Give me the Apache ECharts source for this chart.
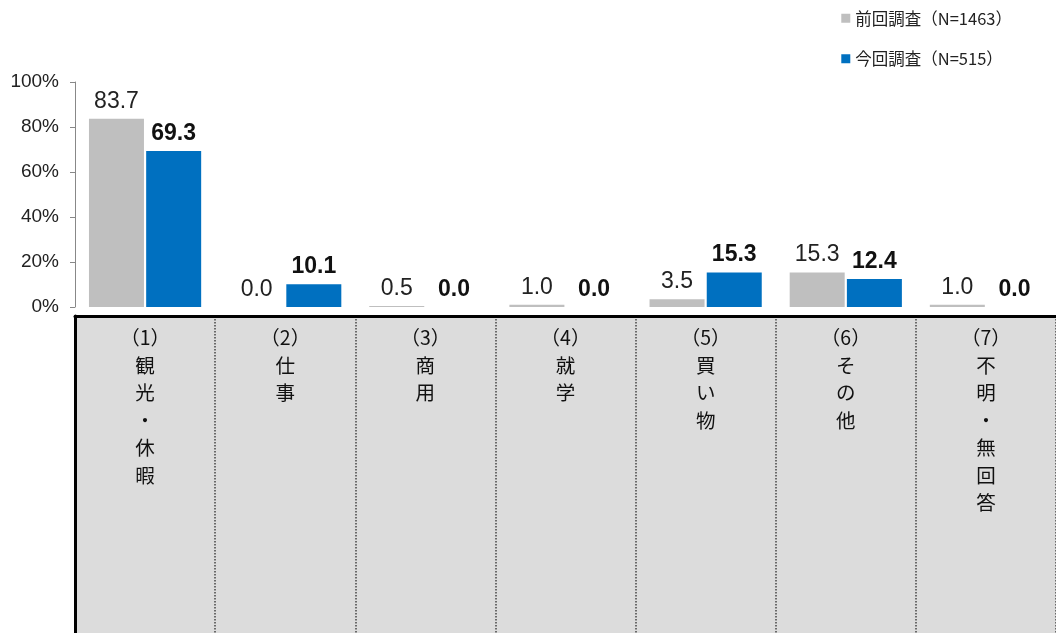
<!DOCTYPE html>
<html>
<head>
<meta charset="utf-8">
<script src="https://cdn.jsdelivr.net/npm/echarts@6/dist/echarts.min.js"></script>
<style>html,body{margin:0;padding:0;background:#fff}#c{width:1056px;height:633px}</style>
</head>
<body>
<div id="c"></div>
<script>
const categories = ['（1）観光・休暇', '（2）仕事', '（3）商用', '（4）就学', '（5）買い物', '（6）その他', '（7）不明・無回答'];
const seriesNames = ['前回調査（N=1463）', '今回調査（N=515）'];
const previousValues = [83.7, 0.0, 0.5, 1.0, 3.5, 15.3, 1.0];
const currentValues = [69.3, 10.1, 0.0, 0.0, 15.3, 12.4, 0.0];
const yTicks = [0, 20, 40, 60, 80, 100];

const NUM_FONT = '"Liberation Sans", Arial, sans-serif';
const CJK_FONT = '"Noto Sans CJK JP", sans-serif';

function verticalLabel(s) {
  const m = s.match(/^(（\d）)(.*)$/);
  return [m[1]].concat(Array.from(m[2])).join('\n');
}

const chart = echarts.init(document.getElementById('c'), null, {renderer: 'canvas'});
chart.setOption({
  animation: false,
  backgroundColor: '#fff',
  textStyle: {fontFamily: NUM_FONT},
  legend: {
    orient: 'vertical',
    right: 39,
    top: 5,
    itemWidth: 9,
    itemHeight: 9,
    itemGap: 24,
    icon: 'rect',
    textStyle: {fontSize: 16.5, color: '#222', fontFamily: CJK_FONT},
    data: seriesNames
  },
  grid: [
    {left: 75, right: -6, top: 82, bottom: 326, containLabel: false},
    {left: 75, right: -6, top: 316, bottom: -2, show: true, backgroundColor: '#dcdcdc', borderWidth: 0, containLabel: false}
  ],
  xAxis: [
    {type: 'category', gridIndex: 0, data: categories, axisLine: {show: false}, axisTick: {show: false}, axisLabel: {show: false}},
    {type: 'category', gridIndex: 1, data: categories, position: 'top',
      axisLine: {show: true, onZero: false, lineStyle: {color: '#000', width: 3}},
      axisTick: {show: false},
      splitLine: {show: true, interval: 0, lineStyle: {color: '#444', type: 'dotted', width: 1.5}},
      axisLabel: {inside: true, interval: 0, margin: 8, formatter: verticalLabel, fontSize: 19.5, lineHeight: 27.5, color: '#111', fontFamily: CJK_FONT, verticalAlign: 'top', align: 'center'}
    }
  ],
  yAxis: [
    {type: 'value', gridIndex: 0, min: 0, max: 100, interval: 20,
      axisLine: {show: true, lineStyle: {color: '#888', width: 1}},
      axisTick: {show: true, length: 5, lineStyle: {color: '#888'}},
      splitLine: {show: false},
      axisLabel: {formatter: v => yTicks.includes(v) ? v + '%' : '', fontSize: 19, color: '#222', margin: 16, fontFamily: NUM_FONT}
    },
    {type: 'value', gridIndex: 1, min: 0, max: 1,
      axisLine: {show: true, onZero: false, lineStyle: {color: '#000', width: 3}},
      axisTick: {show: false}, axisLabel: {show: false}, splitLine: {show: false}
    }
  ],
  series: [
    {name: seriesNames[0], type: 'bar', xAxisIndex: 0, yAxisIndex: 0, data: previousValues,
      barWidth: 55, barGap: '4%',
      itemStyle: {color: '#bfbfbf'},
      label: {show: true, position: 'top', distance: 6, fontSize: 23, color: '#222', fontFamily: NUM_FONT, formatter: p => p.value.toFixed(1)}
    },
    {name: seriesNames[1], type: 'bar', xAxisIndex: 0, yAxisIndex: 0, data: currentValues,
      barWidth: 55, barGap: '4%',
      itemStyle: {color: '#0070c0'},
      label: {show: true, position: 'top', distance: 6, fontSize: 23, fontWeight: 'bold', color: '#111', fontFamily: NUM_FONT, formatter: p => p.value.toFixed(1)}
    }
  ]
});
</script>
</body>
</html>
